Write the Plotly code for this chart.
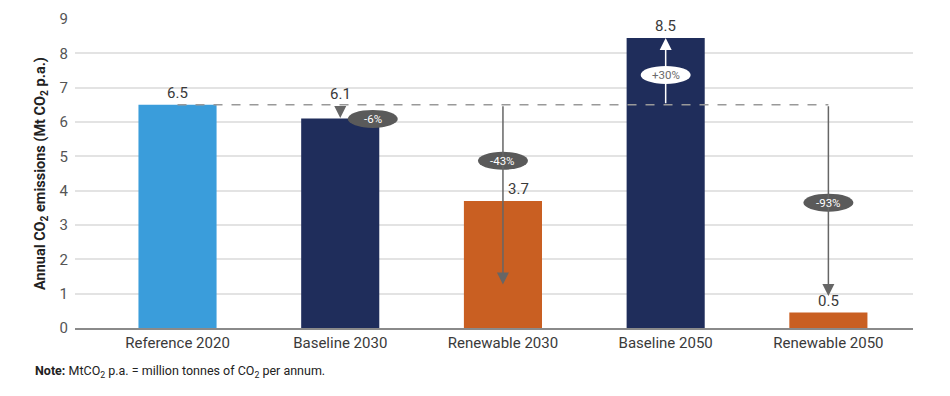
import plotly.graph_objects as go

categories = ["Reference 2020", "Baseline 2030", "Renewable 2030", "Baseline 2050", "Renewable 2050"]
values = [6.5, 6.1, 3.7, 8.45, 0.45]
value_labels = ["6.5", "6.1", "3.7", "8.5", "0.5"]
colors = ["#3a9ddb", "#1f2d5b", "#c95f22", "#1f2d5b", "#c95f22"]

reference_value = 6.5
change_labels = ["-6%", "-43%", "+30%", "-93%"]
change_cats = [1, 2, 3, 4]

FONT = "Roboto, Open Sans, sans-serif"
TXT = "#3a3a3a"
ARROW = "#666666"

fig = go.Figure()
fig.add_trace(go.Bar(
    x=categories, y=values, marker=dict(color=colors, line=dict(width=0)),
    width=0.48, hoverinfo="skip", showlegend=False,
))

shapes = []
annotations = []

# value labels
label_xshift = [0, 0, 16, 0, 0]
label_yshift = [1, 14, 1, 1, 1]
for i, (c, v, t) in enumerate(zip(categories, values, value_labels)):
    annotations.append(dict(x=i, y=v, xref="x", yref="y", text=t, showarrow=False,
                            yanchor="bottom", xshift=label_xshift[i], yshift=label_yshift[i],
                            font=dict(size=15, color=TXT, family=FONT)))

# dashed reference line
shapes.append(dict(type="line", xref="x", yref="y", x0=0, x1=4, y0=reference_value, y1=reference_value,
                   line=dict(color="#999999", width=1.5, dash="dash"), layer="above"))

# arrows
arrow_tips = [6.12, 1.27, 8.45, 0.93]
arrow_colors = [ARROW, ARROW, "#ffffff", ARROW]
for ci, tip, col in zip(change_cats, arrow_tips, arrow_colors):
    annotations.append(dict(x=ci, y=tip, ax=ci, ay=reference_value, xref="x", yref="y",
                            axref="x", ayref="y", text="", showarrow=True,
                            arrowhead=2, arrowsize=1.6, arrowwidth=1.5, arrowcolor=col,
                            standoff=0, startstandoff=0))

# ellipse badges
badge_x = [1.2, 2, 3, 4]
badge_y = [6.09, 4.87, 7.37, 3.65]
badge_fill = ["#5a5a5a", "#5a5a5a", "#ffffff", "#5a5a5a"]
badge_text = ["#ffffff", "#ffffff", "#6a6a6a", "#ffffff"]
for bx, by, f, tc, lab in zip(badge_x, badge_y, badge_fill, badge_text, change_labels):
    shapes.append(dict(type="circle", xref="x", yref="y", xsizemode="pixel", ysizemode="pixel",
                       xanchor=bx, yanchor=by, x0=-25, x1=25, y0=-9, y1=9,
                       fillcolor=f, line=dict(width=0), layer="above"))
    annotations.append(dict(x=bx, y=by, xref="x", yref="y", text=lab, showarrow=False,
                            font=dict(size=11.5, color=tc, family=FONT)))

# note
annotations.append(dict(x=-0.05, y=-0.142, xref="paper", yref="paper", xanchor="left", yanchor="middle",
                        text="<b>Note:</b> MtCO<sub>2</sub> p.a. = million tonnes of CO<sub>2</sub> per annum.",
                        showarrow=False, font=dict(size=12.5, color="#222222", family=FONT)))

fig.update_layout(
    width=950, height=396,
    margin=dict(l=75, r=37, t=10, b=68),
    paper_bgcolor="white", plot_bgcolor="white",
    font=dict(family=FONT, color=TXT),
    shapes=shapes, annotations=annotations,
    xaxis=dict(type="category", range=[-0.63, 4.52], showline=True, linecolor="#8a8a8a", linewidth=2,
               showgrid=False, ticks="", tickfont=dict(size=15, color=TXT)),
    yaxis=dict(range=[0, 9], dtick=1, showgrid=True, gridcolor="#e3e3e3", gridwidth=1.5,
               zeroline=False, ticks="", tickfont=dict(size=15, color="#555555"), ticklabelstandoff=6,
               title=dict(text="<b>Annual CO<sub>2</sub> emissions (Mt CO<sub>2</sub> p.a.)</b>",
                          font=dict(size=14.5, color="#222222"), standoff=10)),
)

fig.write_html("out.html", config={"displayModeBar": False},
               post_script="document.body.style.margin='0';document.body.style.overflow='hidden';")
